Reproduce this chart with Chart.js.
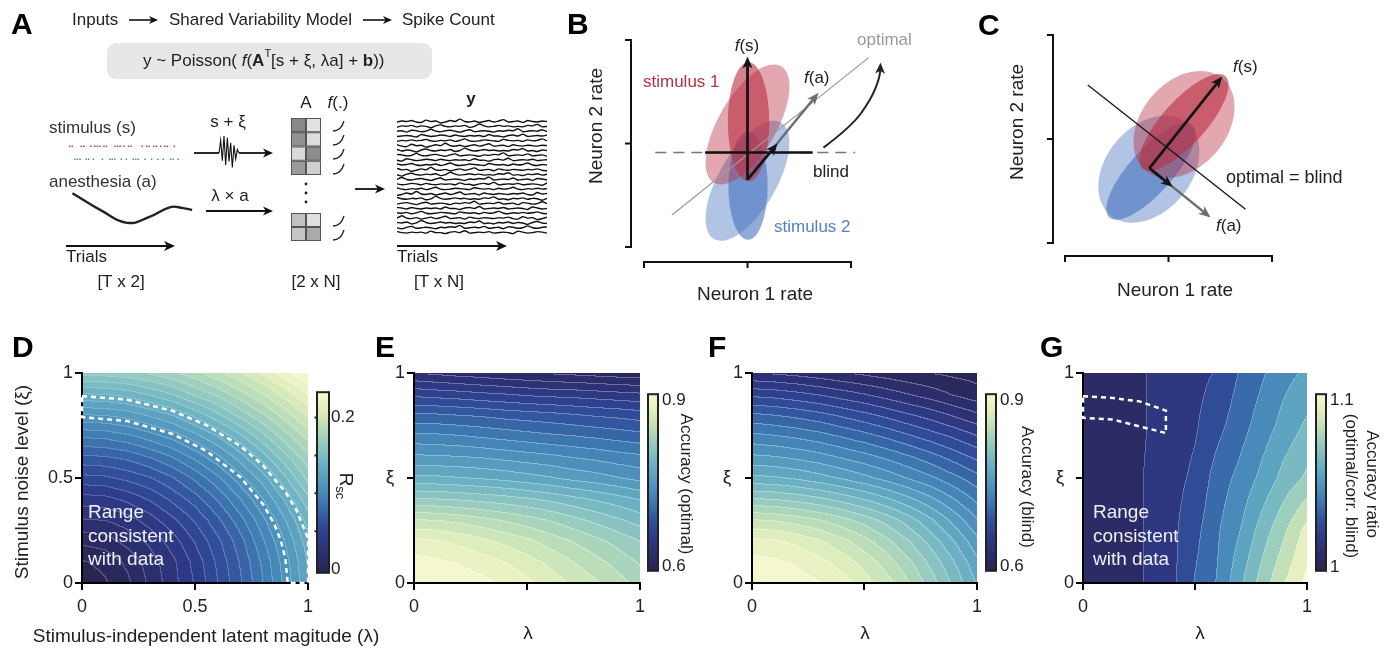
<!DOCTYPE html>
<html>
<head>
<meta charset="utf-8">
<script src="https://cdn.jsdelivr.net/npm/chart.js@4.4.1/dist/chart.umd.min.js"></script>
<style>
  body { margin: 0; background: #fff; }
  #fig { position: relative; width: 1393px; height: 650px; overflow: hidden; background: #fff; }
  canvas { position: absolute; }
</style>
</head>
<body>
<div id="fig"></div>
<script>
// ---------- data ----------

// panel A: trials showing stimulus 1 / stimulus 2, anesthesia level, loadings, spike traces
const stim1Trials = [0,1,4.6,5.6,8.4,10,11,12,13.6,14.6,18,19,20,21.5,23.4,24.4,28.75,30.5,31.5,33.4,34.4,36.1,37.75,38.75,41.5];
const stim2Trials = [2.1,3.1,4.1,6.5,7.5,9.4,13,15.9,16.9,17.9,20.5,22.5,25.25,26.25,27.25,29.9,32.5,35,37.1,40,41,43];
const anesthesiaTrial = [1.1, 12.8, 22.8, 31.4, 40.0, 45.0, 48.6];
const anesthesiaLevel = [0.895, 0.39, 0.05, 0.21, 0.50, 0.47, 0.42];
const noiseTrace = [0, 0.75, -0.45, 1, -0.7, 0.9, -0.5, 0.6, -0.85, 0.45, -0.35, 0.2, 0];
const weightsTop = [[0.55, 0.08], [0.50, 0.10], [0.12, 0.52], [0.45, 0.17]];
const weightsBottom = [[0.25, 0.09], [0.22, 0.37]];
const tracePatterns = [
  [0,.2,.1,.3,0,-.1,.4,.1,.2,-.2,0,.3,.1,.6,.1,0,.2,-.1,.1,.3,0,.2,.5,0,.1,.2,-.1,.3,.1,0,.2,.1],
  [.1,0,.3,.2,.5,0,.1,-.1,.2,.1,.3,0,.2,.1,-.2,.2,.4,.1,0,.2,.1,.3,-.1,.1,.6,.2,0,.1,.3,.1,.2,0],
  [.2,.1,-.1,.2,.1,.3,.2,.6,0,.1,.2,.1,.4,0,.1,.2,-.1,.3,.2,0,.1,.5,.1,0,.2,.3,.1,-.1,.2,.4,0,.1],
  [0,.3,.1,0,.2,.1,.2,0,.4,.1,.1,-.1,.2,.3,.1,.5,0,.1,.2,.1,.3,0,.1,.2,.1,-.1,.4,.2,0,.1,.3,.2],
  [.1,.2,.4,.1,0,.2,.1,.3,0,.2,.5,.1,0,.1,.3,.2,.1,0,.4,.2,.1,.2,0,.3,.1,.2,.5,.1,0,.2,.1,.3]
];
const traceCount = 24;

// panels B and C: response clouds (neuron 1 rate, neuron 2 rate), arbitrary units
const neuronTicks = [-1, 0, 1];
const bClouds = [
  { stim: 2, cov: 'wide',   cx: 0,     cy: -0.36, rx: 0.65, ry: 0.28,  deg: 60 },
  { stim: 2, cov: 'narrow', cx: 0.005, cy: -0.41, rx: 0.19, ry: 0.52,  deg: 0 },
  { stim: 1, cov: 'wide',   cx: 0,     cy: 0.184, rx: 0.65, ry: 0.28,  deg: 60 },
  { stim: 1, cov: 'narrow', cx: 0.01,  cy: 0.21,  rx: 0.20, ry: 0.575, deg: 0 }
];
const bOrigin = [0, -0.35];
const bFs = [0, 0.84];
const bFa = [0.686, 0.49];
const bFaShort = [0.29, 0.0];
const bOptimal = [[-0.73, -0.69], [1.17, 0.83]];
const bBlindY = -0.087;
const bBlindDashed = [-0.89, 1.04];
const bBlindSolid = [-0.41, 0.63];
const bRotate = [[0.734, -0.04], [1.0, 0.16], [1.19, 0.42], [1.28, 0.64], [1.285, 0.78]];

const cClouds = [
  { stim: 2, cov: 'wide',   cx: -0.19, cy: -0.29, rx: 0.58, ry: 0.41, deg: 50 },
  { stim: 2, cov: 'narrow', cx: -0.17, cy: -0.31, rx: 0.60, ry: 0.21, deg: 48 },
  { stim: 1, cov: 'wide',   cx: 0.15,  cy: 0.14,  rx: 0.58, ry: 0.41, deg: 50 },
  { stim: 1, cov: 'narrow', cx: 0.15,  cy: 0.16,  rx: 0.60, ry: 0.21, deg: 48 }
];
const cOrigin = [-0.184, -0.28];
const cFs = [0.52, 0.60];
const cFa = [0.406, -0.754];
const cFaShort = [0.04, -0.46];
const cOptimal = [[-0.78, 0.52], [0.744, -0.676]];

// panels D-G: grids over lambda (columns) and xi (rows, from 0 up to 1)
const lamXi = [0, 0.1, 0.2, 0.3, 0.4, 0.5, 0.6, 0.7, 0.8, 0.9, 1];
const ratioXi = [0, 0.25, 0.5, 0.75, 1];
const axisTicks = [0, 0.5, 1];

const rscGrid = [
  [-0.004,-0.001,0.006,0.018,0.029,0.041,0.056,0.071,0.088,0.107,0.128],
  [-0.001,0.002,0.010,0.020,0.030,0.043,0.058,0.073,0.090,0.109,0.129],
  [0.010,0.012,0.019,0.026,0.036,0.049,0.062,0.077,0.095,0.113,0.133],
  [0.023,0.024,0.028,0.036,0.046,0.057,0.070,0.085,0.102,0.120,0.140],
  [0.036,0.037,0.042,0.049,0.058,0.068,0.081,0.096,0.112,0.130,0.150],
  [0.053,0.054,0.058,0.063,0.071,0.082,0.094,0.109,0.124,0.143,0.163],
  [0.070,0.071,0.074,0.080,0.088,0.098,0.110,0.124,0.140,0.158,0.174],
  [0.089,0.090,0.094,0.100,0.107,0.117,0.128,0.142,0.158,0.173,0.187],
  [0.111,0.112,0.115,0.121,0.128,0.138,0.150,0.163,0.175,0.188,0.202],
  [0.135,0.136,0.139,0.145,0.152,0.162,0.170,0.181,0.192,0.204,0.216],
  [0.162,0.163,0.165,0.169,0.174,0.181,0.190,0.199,0.209,0.221,0.233]
];
const accOptimal = [
  [0.910,0.909,0.906,0.902,0.895,0.887,0.878,0.868,0.859,0.849,0.838],
  [0.902,0.900,0.896,0.890,0.884,0.876,0.867,0.857,0.848,0.838,0.828],
  [0.888,0.885,0.880,0.874,0.867,0.860,0.851,0.843,0.834,0.825,0.816],
  [0.858,0.857,0.853,0.848,0.842,0.836,0.829,0.821,0.813,0.805,0.797],
  [0.818,0.817,0.815,0.812,0.809,0.805,0.800,0.794,0.788,0.782,0.775],
  [0.780,0.779,0.777,0.775,0.772,0.768,0.764,0.759,0.755,0.750,0.745],
  [0.752,0.751,0.750,0.748,0.745,0.742,0.739,0.735,0.732,0.728,0.725],
  [0.726,0.725,0.723,0.720,0.717,0.714,0.711,0.709,0.706,0.703,0.700],
  [0.698,0.697,0.695,0.693,0.690,0.688,0.686,0.683,0.680,0.678,0.675],
  [0.664,0.662,0.660,0.657,0.655,0.652,0.650,0.649,0.647,0.645,0.643],
  [0.628,0.625,0.622,0.620,0.617,0.615,0.613,0.611,0.609,0.607,0.606]
];
const accBlind = [
  [0.910,0.908,0.904,0.898,0.890,0.876,0.862,0.843,0.822,0.798,0.774],
  [0.902,0.900,0.895,0.888,0.878,0.865,0.850,0.832,0.811,0.789,0.765],
  [0.888,0.886,0.880,0.872,0.861,0.848,0.833,0.816,0.796,0.775,0.752],
  [0.858,0.856,0.851,0.844,0.835,0.824,0.811,0.795,0.777,0.757,0.736],
  [0.818,0.816,0.812,0.806,0.798,0.789,0.778,0.765,0.751,0.735,0.718],
  [0.780,0.778,0.774,0.768,0.761,0.753,0.744,0.734,0.724,0.712,0.700],
  [0.752,0.750,0.746,0.741,0.734,0.727,0.719,0.710,0.700,0.689,0.678],
  [0.726,0.723,0.719,0.714,0.707,0.700,0.692,0.683,0.674,0.665,0.655],
  [0.698,0.695,0.691,0.686,0.679,0.672,0.664,0.656,0.648,0.639,0.630],
  [0.664,0.662,0.658,0.653,0.647,0.641,0.634,0.627,0.620,0.612,0.605],
  [0.628,0.626,0.623,0.619,0.615,0.611,0.607,0.603,0.600,0.597,0.595]
];
const accRatio = [
  [1.000,1.002,1.006,1.012,1.018,1.031,1.041,1.058,1.075,1.090,1.103],
  [1.000,1.002,1.006,1.012,1.018,1.027,1.039,1.050,1.065,1.079,1.094],
  [1.000,1.002,1.006,1.012,1.017,1.022,1.035,1.043,1.053,1.064,1.072],
  [1.000,1.002,1.005,1.011,1.015,1.019,1.027,1.036,1.045,1.054,1.062],
  [1.000,1.002,1.005,1.011,1.014,1.017,1.021,1.031,1.039,1.047,1.052]
];

// "range consistent with data" outlines
const rangeD = [[0,0.89],[0.2,0.873],[0.4,0.82],[0.55,0.752],[0.7,0.653],[0.8,0.561],[0.9,0.433],[0.95,0.344],
  [1,0.213],[1,0],[0.91,0],[0.9,0.117],[0.88,0.201],[0.85,0.283],[0.8,0.376],[0.7,0.505],[0.55,0.629],
  [0.4,0.71],[0.2,0.771],[0,0.79],[0,0.89]];
const rangeG = [[0,0.889],[0.133,0.881],[0.252,0.865],[0.37,0.821],[0.37,0.714],[0.252,0.746],[0.133,0.778],[0,0.786],[0,0.889]];

// colour bars: [min, max], labelled ticks, contour spacing
const rscBar = [-0.005, 0.2335], rscTicks = [0, 0.2], rscMinor = [0.05, 0.1, 0.15, 0.2];
const accBar = [0.5927, 0.9108], accTicks = [0.6, 0.9];
const ratioBar = [0.9977, 1.1034], ratioTicks = [1, 1.1];
const rscStep = 0.008, accStep = 0.0135, ratioStep = 0.01;

// ---------- helpers ----------
const FONT = '"Liberation Sans", Arial, Helvetica, sans-serif';
Chart.defaults.font.family = FONT;
Chart.defaults.color = '#222';

const fig = document.getElementById('fig');
function makeCanvas(left, top, w, h) {
  const c = document.createElement('canvas');
  c.width = w; c.height = h;
  c.style.left = left + 'px'; c.style.top = top + 'px';
  c.style.width = w + 'px'; c.style.height = h + 'px';
  fig.appendChild(c);
  return c;
}

const base = {
  responsive: false, animation: false, devicePixelRatio: 1, events: [],
  plugins: { legend: { display: false }, tooltip: { enabled: false } }
};

function font(o) {
  return `${o.style || 'normal'} ${o.weight || 'normal'} ${o.size || 17}px ${FONT}`;
}
function text(ctx, s, x, y, o = {}) {
  ctx.save();
  ctx.font = font(o);
  ctx.fillStyle = o.color || '#222';
  ctx.textAlign = o.align || 'left';
  ctx.textBaseline = 'middle';
  ctx.translate(x, y);
  if (o.rot) ctx.rotate(o.rot);
  ctx.fillText(s, 0, 0);
  ctx.restore();
}
function rich(ctx, runs, x, y, o = {}) {
  ctx.save();
  let w = 0;
  runs.forEach(r => { ctx.font = font({ ...o, ...r }); w += ctx.measureText(r.t).width; });
  ctx.translate(x, y);
  if (o.rot) ctx.rotate(o.rot);
  let cx = o.align === 'center' ? -w / 2 : 0;
  ctx.textBaseline = 'middle';
  ctx.textAlign = 'left';
  runs.forEach(r => {
    ctx.font = font({ ...o, ...r });
    ctx.fillStyle = r.color || o.color || '#222';
    ctx.fillText(r.t, cx, r.dy || 0);
    cx += ctx.measureText(r.t).width;
  });
  ctx.restore();
}
function arrowHead(ctx, x, y, ang, len, half, color) {
  ctx.save();
  ctx.fillStyle = color;
  ctx.translate(x, y);
  ctx.rotate(ang);
  ctx.beginPath();
  ctx.moveTo(0, 0);
  ctx.lineTo(-len, -half);
  ctx.lineTo(-len * 0.72, 0);
  ctx.lineTo(-len, half);
  ctx.closePath();
  ctx.fill();
  ctx.restore();
}
function arrow(ctx, x1, y1, x2, y2, lw, color, len = 10, half = 4.5) {
  const a = Math.atan2(y2 - y1, x2 - x1);
  ctx.save();
  ctx.strokeStyle = color;
  ctx.lineWidth = lw;
  ctx.beginPath();
  ctx.moveTo(x1, y1);
  ctx.lineTo(x2 - Math.cos(a) * len * 0.7, y2 - Math.sin(a) * len * 0.7);
  ctx.stroke();
  ctx.restore();
  arrowHead(ctx, x2, y2, a, len, half, color);
}

// colour map: dark indigo -> blue -> teal -> pale yellow
const cmapStops = [
  [41,37,82],[44,46,110],[46,61,140],[50,86,159],[63,125,179],[82,153,191],
  [108,178,195],[143,199,192],[184,220,184],[224,238,187],[251,249,211]
];
function cmap(t) {
  t = Math.max(0, Math.min(1, t));
  const n = cmapStops.length - 1;
  const f = t * n;
  const i = Math.min(n - 1, Math.floor(f));
  const u = f - i;
  return cmapStops[i].map((c, k) => c + (cmapStops[i + 1][k] - c) * u);
}
function locate(arr, v) {
  let i = 0;
  while (i < arr.length - 2 && v > arr[i + 1]) i++;
  const u = (v - arr[i]) / (arr[i + 1] - arr[i]);
  return [i, Math.max(0, Math.min(1, u))];
}
function sampleGrid(xs, ys, z, xv, yv) {
  const [i, u] = locate(xs, xv);
  const [j, w] = locate(ys, yv);
  const a = z[j][i], b = z[j][i + 1], c = z[j + 1][i], d = z[j + 1][i + 1];
  return (a * (1 - u) + b * u) * (1 - w) + (c * (1 - u) + d * u) * w;
}

// filled contour layer painted under the axes
function heatLayer(field) {
  return {
    id: 'heat',
    beforeDraw(chart) {
      const { ctx, chartArea: a, scales: { x, y } } = chart;
      const L = Math.round(a.left), T = Math.round(a.top);
      const W = Math.round(a.right) - L, H = Math.round(a.bottom) - T;
      const img = ctx.createImageData(W, H);
      const lev = new Int32Array(W * H);
      const xv = [], yv = [];
      for (let i = 0; i < W; i++) xv.push(x.getValueForPixel(L + i + 0.5));
      for (let j = 0; j < H; j++) yv.push(y.getValueForPixel(T + j + 0.5));
      for (let j = 0; j < H; j++) {
        for (let i = 0; i < W; i++) {
          const v = sampleGrid(field.xs, field.ys, field.z, xv[i], yv[j]);
          lev[j * W + i] = Math.floor((v - field.base) / field.step);
        }
      }
      const [lo, hi] = field.bar;
      for (let j = 0; j < H; j++) {
        for (let i = 0; i < W; i++) {
          const idx = j * W + i;
          const k = lev[idx];
          const mid = field.base + (k + 0.5) * field.step;
          let [r, g, b] = cmap((mid - lo) / (hi - lo));
          if ((i > 0 && lev[idx - 1] !== k) || (j > 0 && lev[idx - W] !== k)) {
            r += (255 - r) * field.lineAlpha;
            g += (255 - g) * field.lineAlpha;
            b += (255 - b) * field.lineAlpha;
          }
          img.data[idx * 4] = r;
          img.data[idx * 4 + 1] = g;
          img.data[idx * 4 + 2] = b;
          img.data[idx * 4 + 3] = 255;
        }
      }
      ctx.putImageData(img, L, T);
    }
  };
}

// text and drawings given in page coordinates
function notesLayer(left, top, draw, hook = 'afterDraw') {
  return {
    id: 'notes',
    [hook](chart) {
      const ctx = chart.ctx;
      ctx.save();
      ctx.translate(-left, -top);
      draw(ctx, chart);
      ctx.restore();
    }
  };
}

function heatAxes(yw, xh, hideMid) {
  const cb = v => (hideMid && v === 0.5) ? '' : String(v);
  const axis = (pos, fit) => ({
    type: 'linear', position: pos, min: 0, max: 1,
    afterFit: fit,
    afterBuildTicks: s => { s.ticks = axisTicks.map(v => ({ value: v })); },
    border: { display: true, color: '#000', width: 2 },
    grid: { display: true, drawOnChartArea: false, drawTicks: true, tickLength: 7, color: '#000', lineWidth: 2 },
    ticks: { callback: cb, color: '#222', font: { size: 18 }, padding: pos === 'left' ? 2 : 6, maxRotation: 0, autoSkip: false }
  });
  return {
    x: axis('bottom', s => { s.height = xh; }),
    y: axis('left', s => { s.width = yw; })
  };
}

function heatPanel(cfg) {
  const cv = makeCanvas(cfg.left, cfg.top, cfg.w, cfg.h);
  const datasets = (cfg.outline ? [{
    data: cfg.outline.map(p => ({ x: p[0], y: p[1] })),
    showLine: true, borderColor: '#ffffff', borderWidth: 2.5, borderDash: [5, 4],
    pointRadius: 0, clip: false, tension: 0
  }] : []);
  return new Chart(cv, {
    type: 'scatter',
    data: { datasets },
    options: {
      ...base,
      layout: { padding: { left: 0, top: cfg.padTop, right: cfg.padRight, bottom: 0 } },
      scales: heatAxes(cfg.yw, cfg.xh, cfg.hideMid)
    },
    plugins: [heatLayer(cfg.field), notesLayer(cfg.left, cfg.top, cfg.notes)]
  });
}

function colorbar(cfg) {
  const cv = makeCanvas(cfg.left, cfg.top, cfg.w, cfg.h);
  return new Chart(cv, {
    type: 'scatter',
    data: { datasets: [] },
    options: {
      ...base,
      layout: { padding: { left: cfg.padLeft, top: cfg.padTop, bottom: cfg.padBottom, right: 0 } },
      scales: {
        x: { display: false, min: 0, max: 1 },
        y: {
          position: 'right', min: cfg.range[0], max: cfg.range[1],
          afterFit: s => { s.width = cfg.axisW; },
          afterBuildTicks: s => { s.ticks = cfg.ticks.map(v => ({ value: v })); },
          border: { display: false },
          grid: { display: false, drawTicks: false },
          ticks: { callback: v => String(v), font: { size: 17 }, color: '#222', padding: cfg.tickPad }
        }
      }
    },
    plugins: [{
      id: 'bar',
      beforeDraw(chart) {
        const { ctx, chartArea: a, scales: { y } } = chart;
        for (let py = Math.floor(a.top); py < Math.ceil(a.bottom); py++) {
          const v = y.getValueForPixel(py + 0.5);
          const [r, g, b] = cmap((v - cfg.range[0]) / (cfg.range[1] - cfg.range[0]));
          ctx.fillStyle = `rgb(${r | 0},${g | 0},${b | 0})`;
          ctx.fillRect(a.left, py, a.right - a.left, 1);
        }
      },
      afterDraw(chart) {
        const { ctx, chartArea: a, scales: { y } } = chart;
        ctx.save();
        ctx.strokeStyle = '#222';
        ctx.lineWidth = 2;
        ctx.strokeRect(a.left, a.top, a.right - a.left, a.bottom - a.top);
        ctx.beginPath();
        (cfg.minor || []).forEach(v => {
          const py = y.getPixelForValue(v);
          ctx.moveTo(a.left - 2.5, py);
          ctx.lineTo(a.left + 0.5, py);
        });
        ctx.stroke();
        ctx.restore();
      }
    }, notesLayer(cfg.left, cfg.top, cfg.notes)]
  });
}

// ---------- panel A ----------
const formulaRuns = [
  { t: 'y ~ Poisson( ' }, { t: 'f', style: 'italic' }, { t: '(' }, { t: 'A', weight: 'bold' },
  { t: 'T', size: 11, dy: -7 }, { t: '[s + ξ, λa] + ' }, { t: 'b', weight: 'bold' }, { t: '))' }
];

function drawWeights(ctx, X, Y, w, x0, y0, cw, ch) {
  w.forEach((row, r) => row.forEach((v, c) => {
    const s = Math.round(240 - 190 * v);
    const px = X(x0 + c * cw), py = Y(y0 + r * ch);
    const pw = X(x0 + (c + 1) * cw) - px, ph = Y(y0 + (r + 1) * ch) - py;
    ctx.fillStyle = `rgb(${s},${s},${s})`;
    ctx.fillRect(px, py, pw, ph);
    ctx.strokeStyle = '#555';
    ctx.lineWidth = 1;
    ctx.strokeRect(px + 0.5, py + 0.5, pw - 1, ph - 1);
  }));
}
function drawLink(ctx, X, Y, x0, yc) {
  ctx.save();
  ctx.strokeStyle = '#222';
  ctx.lineWidth = 1.3;
  ctx.beginPath();
  ctx.moveTo(X(x0), Y(yc + 5));
  ctx.quadraticCurveTo(X(x0 + 8), Y(yc + 5), X(x0 + 11), Y(yc - 5));
  ctx.stroke();
  ctx.restore();
}

function drawPanelA(chart) {
  const { ctx, scales: { x, y } } = chart;
  const X = v => x.getPixelForValue(v), Y = v => y.getPixelForValue(v);
  text(ctx, 'A', X(11), Y(26), { size: 30, weight: 'bold', color: '#000' });
  text(ctx, 'Inputs', X(72), Y(20));
  arrow(ctx, X(129), Y(20), X(158), Y(20), 1.6, '#111', 9, 4);
  text(ctx, 'Shared Variability Model', X(169), Y(20));
  arrow(ctx, X(363), Y(20), X(392), Y(20), 1.6, '#111', 9, 4);
  text(ctx, 'Spike Count', X(402), Y(20));

  ctx.fillStyle = '#e6e7e8';
  ctx.beginPath();
  ctx.roundRect(X(107), Y(43), X(432) - X(107), Y(79) - Y(43), 9);
  ctx.fill();
  rich(ctx, formulaRuns, X(143), Y(61), { size: 17 });

  text(ctx, 'stimulus (s)', X(49), Y(128), { color: '#333' });
  text(ctx, 'anesthesia (a)', X(49), Y(182), { color: '#333' });
  text(ctx, 's + ξ', X(228), Y(122), { align: 'center' });
  text(ctx, 'λ × a', X(230), Y(196), { align: 'center' });
  text(ctx, 'A', X(306), Y(103), { align: 'center' });
  rich(ctx, [{ t: 'f', style: 'italic' }, { t: '(.)' }], X(338), Y(103), { align: 'center' });
  text(ctx, 'y', X(471), Y(99), { align: 'center', weight: 'bold' });
  text(ctx, 'Trials', X(66), Y(257));
  text(ctx, '[T x 2]', X(121), Y(282), { align: 'center' });
  text(ctx, '[2 x N]', X(316), Y(282), { align: 'center' });
  text(ctx, 'Trials', X(397), Y(257));
  text(ctx, '[T x N]', X(439), Y(282), { align: 'center' });

  // s + xi: line, additive noise, arrow
  ctx.save();
  ctx.strokeStyle = '#111';
  ctx.lineWidth = 1.8;
  ctx.beginPath();
  ctx.moveTo(X(194), Y(153));
  ctx.lineTo(X(219), Y(153));
  ctx.stroke();
  ctx.lineWidth = 1.1;
  ctx.beginPath();
  noiseTrace.forEach((v, i) => {
    const px = X(219 + i * 20 / (noiseTrace.length - 1)), py = Y(153 - v * 17);
    if (i === 0) ctx.moveTo(px, py); else ctx.lineTo(px, py);
  });
  ctx.stroke();
  ctx.restore();
  arrow(ctx, X(239), Y(153), X(273), Y(153), 1.8, '#111', 10, 4.5);
  arrow(ctx, X(206), Y(211), X(273), Y(211), 1.8, '#111', 10, 4.5);
  arrow(ctx, X(355), Y(189), X(385), Y(189), 1.8, '#111', 10, 4.5);
  arrow(ctx, X(66), Y(246), X(175), Y(246), 2.2, '#111', 11, 5);
  arrow(ctx, X(397), Y(246), X(507), Y(246), 2.2, '#111', 11, 5);

  // loading matrices and nonlinearities
  drawWeights(ctx, X, Y, weightsTop, 291, 118, 15, 14.25);
  drawWeights(ctx, X, Y, weightsBottom, 291, 213, 15, 14);
  [125, 139, 153, 168].forEach(r => drawLink(ctx, X, Y, 333, r + 1));
  [220, 234].forEach(r => drawLink(ctx, X, Y, 333, r + 1));
  ctx.fillStyle = '#222';
  [184, 193, 202].forEach(r => { ctx.beginPath(); ctx.arc(X(306), Y(r), 1.4, 0, 2 * Math.PI); ctx.fill(); });
}

new Chart(makeCanvas(0, 0, 560, 300), {
  type: 'scatter',
  data: { datasets: [] },
  options: {
    ...base, layout: { padding: 0 },
    scales: { x: { display: false, min: 0, max: 560 }, y: { display: false, min: 0, max: 300, reverse: true } }
  },
  plugins: [{ id: 'schematic', afterDraw: drawPanelA }]
});

// stimulus dots and anesthesia trace
new Chart(makeCanvas(60, 135, 145, 100), {
  type: 'scatter',
  data: {
    datasets: [
      { data: stim1Trials.map(t => ({ x: t, y: 1 })), yAxisID: 'yS', backgroundColor: '#c0394a', borderWidth: 0, pointStyle: 'rect', pointRadius: 1.05 },
      { data: stim2Trials.map(t => ({ x: t, y: 2 })), yAxisID: 'yS', backgroundColor: '#4f80cf', borderWidth: 0, pointStyle: 'rect', pointRadius: 1.05 },
      { data: anesthesiaTrial.map((t, i) => ({ x: t, y: anesthesiaLevel[i] })), yAxisID: 'yA', showLine: true,
        borderColor: '#222', borderWidth: 2.4, pointRadius: 0, tension: 0.45, clip: false }
    ]
  },
  options: {
    ...base, layout: { padding: 0 },
    scales: {
      x: { display: false, min: -2.25, max: 52.1 },
      y: { display: false },
      yS: { display: false, min: 0.429, max: 7.571, reverse: true },
      yA: { display: false, min: -0.184, max: 2.447 }
    }
  }
});

// spike count traces
const traces = [];
for (let i = 0; i < traceCount; i++) {
  const p = tracePatterns[i % tracePatterns.length];
  traces.push({
    data: p.map((_, j) => ({ x: j, y: i - p[(j + i * 7) % p.length] })),
    showLine: true, borderColor: '#111', borderWidth: 1.4, pointRadius: 0, tension: 0.2
  });
}
new Chart(makeCanvas(395, 118, 154, 118), {
  type: 'scatter',
  data: { datasets: traces },
  options: {
    ...base, layout: { padding: { left: 2, right: 2, top: 0, bottom: 0 } },
    scales: { x: { display: false, min: 0, max: 31 }, y: { display: false, min: -0.83, max: 23.6, reverse: true } }
  }
});

// ---------- panels B and C ----------
function cloudColor(c) {
  const a = c.cov === 'narrow' ? 0.6 : 0.42;
  return c.stim === 1 ? `rgba(185,45,65,${a})` : `rgba(70,115,190,${a})`;
}
function drawClouds(chart, clouds) {
  const { ctx, scales: { x, y } } = chart;
  const ux = x.getPixelForValue(1) - x.getPixelForValue(0);
  const uy = y.getPixelForValue(0) - y.getPixelForValue(1);
  clouds.forEach(c => {
    ctx.save();
    ctx.fillStyle = cloudColor(c);
    ctx.beginPath();
    ctx.ellipse(x.getPixelForValue(c.cx), y.getPixelForValue(c.cy), c.rx * ux, c.ry * uy,
      -c.deg * Math.PI / 180, 0, 2 * Math.PI);
    ctx.fill();
    ctx.restore();
  });
}
function vec(chart, from, to, color, lw) {
  const { ctx, scales: { x, y } } = chart;
  arrow(ctx, x.getPixelForValue(from[0]), y.getPixelForValue(from[1]),
    x.getPixelForValue(to[0]), y.getPixelForValue(to[1]), lw, color, 12, 5);
}
// smooth curve through points, ending in an arrow head
function curvedArrow(chart, points, color, lw) {
  const { ctx, scales: { x, y } } = chart;
  const P = points.map(p => [x.getPixelForValue(p[0]), y.getPixelForValue(p[1])]);
  const n = P.length;
  ctx.save();
  ctx.strokeStyle = color;
  ctx.lineWidth = lw;
  ctx.beginPath();
  ctx.moveTo(P[0][0], P[0][1]);
  for (let i = 1; i < n - 1; i++) {
    const mx = (P[i][0] + P[i + 1][0]) / 2, my = (P[i][1] + P[i + 1][1]) / 2;
    ctx.quadraticCurveTo(P[i][0], P[i][1], mx, my);
  }
  const ang = Math.atan2(P[n - 1][1] - P[n - 2][1], P[n - 1][0] - P[n - 2][0]);
  ctx.lineTo(P[n - 1][0] - Math.cos(ang) * 7, P[n - 1][1] - Math.sin(ang) * 7);
  ctx.stroke();
  ctx.restore();
  arrowHead(ctx, P[n - 1][0], P[n - 1][1], ang, 11, 5, color);
}
function offsetSpines(chart, gapY, gapX) {
  const { ctx, chartArea: a, scales: { x, y } } = chart;
  const sx = a.left - gapY, sy = a.bottom + gapX;
  ctx.save();
  ctx.strokeStyle = '#111';
  ctx.lineWidth = 2;
  ctx.beginPath();
  ctx.moveTo(sx, y.getPixelForValue(1));
  ctx.lineTo(sx, y.getPixelForValue(-1));
  neuronTicks.forEach(v => { ctx.moveTo(sx + 1, y.getPixelForValue(v)); ctx.lineTo(sx - 6, y.getPixelForValue(v)); });
  ctx.moveTo(x.getPixelForValue(-1), sy);
  ctx.lineTo(x.getPixelForValue(1), sy);
  neuronTicks.forEach(v => { ctx.moveTo(x.getPixelForValue(v), sy - 1); ctx.lineTo(x.getPixelForValue(v), sy + 6); });
  ctx.stroke();
  ctx.restore();
}
const pts = arr => arr.map(p => ({ x: p[0], y: p[1] }));
const lineSet = (data, color, width, extra = {}) =>
  ({ data, showLine: true, borderColor: color, borderWidth: width, pointRadius: 0, clip: false, ...extra });
const hiddenUnitScales = {
  x: { display: false, min: -1, max: 1 },
  y: { display: false, min: -1, max: 1 }
};

new Chart(makeCanvas(540, 0, 420, 310), {
  type: 'scatter',
  data: {
    datasets: [
      lineSet([{ x: bBlindSolid[0], y: bBlindY }, { x: bBlindSolid[1], y: bBlindY }], '#111', 2.5),
      lineSet([{ x: bBlindDashed[0], y: bBlindY }, { x: bBlindDashed[1], y: bBlindY }], '#777', 1.5, { borderDash: [11, 7] }),
      lineSet(pts(bOptimal), '#9a9a9a', 1.2)
    ]
  },
  options: { ...base, layout: { padding: { left: 104, right: 109, top: 40, bottom: 63 } }, scales: hiddenUnitScales },
  plugins: [{
    id: 'panelB',
    beforeDatasetsDraw(chart) { drawClouds(chart, bClouds); },
    afterDatasetsDraw(chart) {
      vec(chart, bOrigin, bFa, '#6d6d6d', 2.5);
      vec(chart, bOrigin, bFs, '#151515', 2.8);
      vec(chart, bOrigin, bFaShort, '#151515', 2.8);
      curvedArrow(chart, bRotate, '#222', 2);
      offsetSpines(chart, 13, 15);
    }
  }, notesLayer(540, 0, ctx => {
    text(ctx, 'B', 567, 26, { size: 30, weight: 'bold', color: '#000' });
    rich(ctx, [{ t: 'f', style: 'italic' }, { t: '(s)' }], 747, 46, { align: 'center' });
    text(ctx, 'optimal', 857, 40, { color: '#999' });
    text(ctx, 'stimulus 1', 643, 82, { color: 'rgb(180,50,65)' });
    rich(ctx, [{ t: 'f', style: 'italic' }, { t: '(a)' }], 804, 78);
    text(ctx, 'blind', 813, 172);
    text(ctx, 'stimulus 2', 774, 227, { color: 'rgb(85,128,200)' });
    text(ctx, 'Neuron 2 rate', 597, 126, { size: 19, align: 'center', rot: -Math.PI / 2 });
    text(ctx, 'Neuron 1 rate', 755, 295, { size: 19, align: 'center' });
  })]
});

new Chart(makeCanvas(960, 0, 433, 310), {
  type: 'scatter',
  data: { datasets: [lineSet(pts(cOptimal), '#151515', 1.3)] },
  options: { ...base, layout: { padding: { left: 105, right: 121, top: 35, bottom: 67 } }, scales: hiddenUnitScales },
  plugins: [{
    id: 'panelC',
    beforeDatasetsDraw(chart) { drawClouds(chart, cClouds); },
    afterDatasetsDraw(chart) {
      vec(chart, cOrigin, cFa, '#6d6d6d', 2.5);
      vec(chart, cOrigin, cFs, '#151515', 2.8);
      vec(chart, cOrigin, cFaShort, '#151515', 2.8);
      offsetSpines(chart, 12, 13);
    }
  }, notesLayer(960, 0, ctx => {
    text(ctx, 'C', 978, 27, { size: 30, weight: 'bold', color: '#000' });
    rich(ctx, [{ t: 'f', style: 'italic' }, { t: '(s)' }], 1233, 67);
    text(ctx, 'optimal = blind', 1226, 178, { size: 18 });
    rich(ctx, [{ t: 'f', style: 'italic' }, { t: '(a)' }], 1216, 226);
    text(ctx, 'Neuron 2 rate', 1018, 122, { size: 19, align: 'center', rot: -Math.PI / 2 });
    text(ctx, 'Neuron 1 rate', 1175, 291, { size: 19, align: 'center' });
  })]
});

// ---------- panels D-G ----------
const rangeText = (ctx, x0) => {
  ['Range', 'consistent', 'with data'].forEach((s, i) =>
    text(ctx, s, x0, 513 + i * 23.5, { size: 19, color: 'rgba(255,255,255,0.92)' }));
};

heatPanel({
  left: 0, top: 330, w: 390, h: 320, padTop: 43, padRight: 82, yw: 82, xh: 67, hideMid: false,
  field: { xs: lamXi, ys: lamXi, z: rscGrid, base: 0, step: rscStep, bar: rscBar, lineAlpha: 0.22 },
  outline: rangeD,
  notes: ctx => {
    text(ctx, 'D', 12, 349, { size: 30, weight: 'bold', color: '#000' });
    text(ctx, 'Stimulus noise level (ξ)', 23, 482, { size: 19, align: 'center', rot: -Math.PI / 2 });
    text(ctx, 'Stimulus-independent latent magitude (λ)', 206, 637, { size: 19, align: 'center' });
    rangeText(ctx, 88);
  }
});
heatPanel({
  left: 340, top: 330, w: 311, h: 320, padTop: 43, padRight: 10, yw: 74, xh: 67, hideMid: true,
  field: { xs: lamXi, ys: lamXi, z: accOptimal, base: 0.6, step: accStep, bar: accBar, lineAlpha: 0.3 },
  notes: ctx => {
    text(ctx, 'E', 375, 349, { size: 30, weight: 'bold', color: '#000' });
    text(ctx, 'ξ', 390, 478, { size: 19, align: 'center' });
    text(ctx, 'λ', 528, 634, { size: 19, align: 'center' });
  }
});
heatPanel({
  left: 680, top: 330, w: 308, h: 320, padTop: 43, padRight: 10, yw: 72, xh: 67, hideMid: true,
  field: { xs: lamXi, ys: lamXi, z: accBlind, base: 0.6, step: accStep, bar: accBar, lineAlpha: 0.3 },
  notes: ctx => {
    text(ctx, 'F', 708, 349, { size: 30, weight: 'bold', color: '#000' });
    text(ctx, 'ξ', 727, 478, { size: 19, align: 'center' });
    text(ctx, 'λ', 865, 634, { size: 19, align: 'center' });
  }
});
heatPanel({
  left: 1010, top: 330, w: 308, h: 320, padTop: 43, padRight: 10, yw: 73, xh: 67, hideMid: true,
  field: { xs: lamXi, ys: ratioXi, z: accRatio, base: 1.0, step: ratioStep, bar: ratioBar, lineAlpha: 0.25 },
  outline: rangeG,
  notes: ctx => {
    text(ctx, 'G', 1040, 349, { size: 30, weight: 'bold', color: '#000' });
    text(ctx, 'ξ', 1060, 478, { size: 19, align: 'center' });
    text(ctx, 'λ', 1200, 634, { size: 19, align: 'center' });
    rangeText(ctx, 1093);
  }
});

// colour bars
colorbar({
  left: 312, top: 380, w: 70, h: 205, padLeft: 5, padTop: 9, padBottom: 10, axisW: 53, tickPad: 2,
  range: rscBar, ticks: rscTicks, minor: rscMinor,
  notes: ctx => rich(ctx, [{ t: 'R', size: 19 }, { t: 'sc', size: 13, dy: 5 }], 345, 486, { align: 'center', rot: Math.PI / 2 })
});
colorbar({
  left: 643, top: 380, w: 70, h: 205, padLeft: 5, padTop: 9, padBottom: 10, axisW: 55, tickPad: 4,
  range: accBar, ticks: accTicks,
  notes: ctx => text(ctx, 'Accuracy (optimal)', 686, 484, { size: 17, align: 'center', rot: Math.PI / 2 })
});
colorbar({
  left: 981, top: 380, w: 70, h: 205, padLeft: 5, padTop: 9, padBottom: 10, axisW: 55, tickPad: 4,
  range: accBar, ticks: accTicks,
  notes: ctx => text(ctx, 'Accuracy (blind)', 1027, 487, { size: 17, align: 'center', rot: Math.PI / 2 })
});
colorbar({
  left: 1311, top: 380, w: 82, h: 205, padLeft: 5, padTop: 9, padBottom: 10, axisW: 67, tickPad: 4,
  range: ratioBar, ticks: ratioTicks,
  notes: ctx => {
    text(ctx, 'Accuracy ratio', 1372, 484, { size: 17, align: 'center', rot: Math.PI / 2 });
    text(ctx, '(optimal/corr. blind)', 1351, 486, { size: 17, align: 'center', rot: Math.PI / 2 });
  }
});
</script>
</body>
</html>
